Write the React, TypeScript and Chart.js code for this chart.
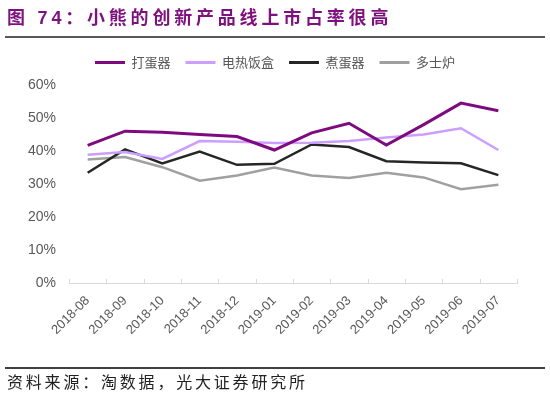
import { useEffect, useRef } from "react";
import { Chart, registerables } from "chart.js";

Chart.register(...registerables);

const categories = [
  "2018-08", "2018-09", "2018-10", "2018-11", "2018-12", "2019-01",
  "2019-02", "2019-03", "2019-04", "2019-05", "2019-06", "2019-07",
];
const seriesNames = ["打蛋器", "电热饭盒", "煮蛋器", "多士炉"];
const eggBeater = [41.7, 46.0, 45.7, 45.0, 44.4, 40.3, 45.5, 48.4, 41.8, 48.0, 54.5, 52.2];
const lunchBox = [38.9, 39.7, 37.6, 43.0, 42.8, 42.4, 42.5, 43.0, 44.1, 45.0, 46.9, 40.3];
const eggCooker = [33.4, 40.5, 36.2, 39.8, 35.8, 36.1, 42.0, 41.2, 36.9, 36.5, 36.3, 32.7];
const toaster = [37.4, 38.2, 35.1, 31.0, 32.6, 35.0, 32.6, 31.8, 33.4, 32.0, 28.4, 29.8];
const yMin = 0;
const yMax = 60;
const yStep = 10;

const titleText = "图 74：小熊的创新产品线上市占率很高";
const sourceText = "资料来源：淘数据，光大证券研究所";

const colors = ["#7F0A80", "#CC9EFF", "#262626", "#A0A0A0"];
const widths = [3, 2.5, 2.5, 2.5];

export default function App() {
  const canvasRef = useRef<HTMLCanvasElement | null>(null);

  useEffect(() => {
    document.body.style.margin = "0";
    const canvas = canvasRef.current;
    if (!canvas) return;
    const values = [eggBeater, lunchBox, eggCooker, toaster];

    const innerTicks = {
      id: "innerTicks",
      afterDatasetsDraw(chart: any) {
        const x = chart.scales.x;
        const ctx = chart.ctx;
        ctx.save();
        ctx.strokeStyle = "#D9D9D9";
        ctx.lineWidth = 1;
        ctx.beginPath();
        for (let i = 0; i <= categories.length; i++) {
          const px = Math.round(x.getPixelForValue(i - 0.5)) + 0.5;
          ctx.moveTo(px, chart.chartArea.bottom);
          ctx.lineTo(px, chart.chartArea.bottom - 4);
        }
        ctx.stroke();
        ctx.restore();
      },
    };

    const legendSpacing = {
      id: "legendSpacing",
      afterInit(chart: any) {
        const legend = chart.legend;
        if (!legend) return;
        const fit = legend.fit;
        legend.fit = function () {
          fit.call(this);
          this.height += 6;
        };
      },
    };

    const chart = new Chart(canvas, {
      type: "line",
      data: {
        labels: categories,
        datasets: seriesNames.map((name, i) => ({
          label: name,
          data: values[i],
          borderColor: colors[i],
          backgroundColor: colors[i],
          borderWidth: widths[i],
          pointRadius: 0,
          tension: 0,
          fill: false,
        })),
      },
      options: {
        animation: false,
        responsive: false,
        maintainAspectRatio: false,
        layout: { padding: { top: 41, right: 0, bottom: 40, left: 0 } },
        plugins: {
          tooltip: { enabled: false },
          legend: {
            position: "top",
            labels: {
              boxWidth: 30,
              boxHeight: 3,
              padding: 15,
              color: "#595959",
              font: { family: "'Noto Sans CJK SC', 'Liberation Sans', sans-serif", size: 13 },
              generateLabels: (c: any) =>
                Chart.defaults.plugins.legend.labels
                  .generateLabels(c)
                  .map((l: any) => ({ ...l, lineWidth: 0, fillStyle: l.strokeStyle })),
            },
          },
        },
        scales: {
          x: {
            offset: true,
            grid: { display: false, drawTicks: false, offset: true },
            border: { display: true, color: "#D9D9D9", width: 1 },
            ticks: {
              color: "#595959",
              font: { family: "'Liberation Sans', Arial, sans-serif", size: 13 },
              maxRotation: 45,
              minRotation: 45,
              padding: 10,
              autoSkip: false,
            },
            afterFit(scale: any) {
              scale.height = 73;
            },
          },
          y: {
            min: yMin,
            max: yMax,
            grid: { display: false, drawTicks: false },
            border: { display: false },
            ticks: {
              stepSize: yStep,
              color: "#595959",
              padding: 13,
              font: { family: "'Liberation Sans', Arial, sans-serif", size: 14 },
              callback: (v: any) => v + "%",
            },
            afterFit(scale: any) {
              scale.width = 69;
            },
          },
          yRight: {
            position: "right",
            display: true,
            grid: { display: false, drawTicks: false },
            border: { display: false },
            ticks: { display: false },
            afterFit(scale: any) {
              scale.width = 33;
            },
          },
        },
      },
      plugins: [innerTicks, legendSpacing],
    });
    return () => chart.destroy();
  }, []);

  return (
    <div style={{ position: "fixed", left: 0, top: 0, width: 550, height: 396, background: "#fff", overflow: "hidden" }}>
      <canvas ref={canvasRef} width={550} height={396} style={{ position: "absolute", left: 0, top: 0, width: 550, height: 396 }} />
      <div
        style={{
          position: "absolute",
          left: 7,
          top: 6,
          fontFamily: "'Liberation Sans', 'Noto Sans CJK SC', sans-serif",
          fontWeight: "bold",
          fontSize: 18,
          letterSpacing: 3.8,
          color: "#7E117E",
          whiteSpace: "nowrap",
          lineHeight: "24px",
        }}
      >
        {titleText}
      </div>
      <div style={{ position: "absolute", left: 5, top: 36, width: 540, height: 2, background: "#595959" }} />
      <div style={{ position: "absolute", left: 5, top: 367, width: 540, height: 2, background: "#404040" }} />
      <div
        style={{
          position: "absolute",
          left: 7,
          top: 370,
          fontFamily: "'Noto Sans CJK SC', sans-serif",
          fontSize: 16,
          letterSpacing: 2.8,
          color: "#222",
          whiteSpace: "nowrap",
          lineHeight: "22px",
        }}
      >
        {sourceText}
      </div>
    </div>
  );
}
